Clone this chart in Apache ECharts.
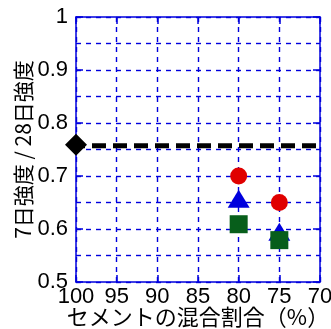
<!DOCTYPE html>
<html><head><meta charset="utf-8">
<script src="https://cdn.jsdelivr.net/npm/echarts@6/dist/echarts.min.js"></script>
<style>html,body{margin:0;padding:0;background:#fff}#c{width:331px;height:329px}</style>
</head><body><div id="c"></div>
<script>
const xTicks = [100, 95, 90, 85, 80, 75, 70];
const baseline = [[100, 0.759]];
const refLine = [[100, 0.757], [70, 0.757]];
const redCircles = [[80, 0.700], [75, 0.650]];
const blueTriangles = [[80, 0.657], [75, 0.595]];
const greenSquares = [[80, 0.609], [75, 0.579]];

const blue = '#0000dd';
const font = 'Liberation Sans, Arial, "Noto Sans CJK JP", sans-serif';
const cjk = '"Noto Sans CJK JP", sans-serif';
const chart = echarts.init(document.getElementById('c'), null, {renderer: 'canvas'});
const baseX = {
  type: 'value', min: 70, max: 100, interval: 5, inverse: true,
  axisLine: {show: true, onZero: false, lineStyle: {color: blue, width: 1.5}},
  axisTick: {show: true, inside: true, length: 7, lineStyle: {color: blue, width: 1.5}},
  splitLine: {show: false}
};
const baseY = {
  type: 'value', min: 0.5, max: 1, interval: 0.1,
  axisLine: {show: true, onZero: false, lineStyle: {color: blue, width: 1.5}},
  axisTick: {show: true, inside: true, length: 7, lineStyle: {color: blue, width: 1.5}},
  splitLine: {show: false}
};
const gridStyle = {color: blue, width: 1.4, type: [5, 5]};
chart.setOption({
  animation: false,
  grid: {left: 76, right: 11, top: 17, bottom: 47, containLabel: false, outerBoundsMode: 'none'},
  xAxis: [
    Object.assign({}, baseX, {
      position: 'bottom',
      axisLabel: {color: '#000', fontSize: 22, fontFamily: font, margin: 4},
      splitLine: {show: true, lineStyle: gridStyle},
      name: 'セメントの混合割合（%）', nameLocation: 'middle', nameGap: 24, nameMoveOverlap: false,
      nameTextStyle: {color: '#000', fontSize: 22, fontFamily: cjk}
    }),
    Object.assign({}, baseX, {position: 'top', axisLabel: {show: false}})
  ],
  yAxis: [
    Object.assign({}, baseY, {
      position: 'left',
      axisLabel: {color: '#000', fontSize: 22, fontFamily: font, margin: 8},
      splitLine: {show: true, lineStyle: gridStyle},
      minorTick: {show: false, splitNumber: 2},
      minorSplitLine: {show: true, lineStyle: gridStyle},
      name: '7日強度 / 28日強度', nameLocation: 'middle', nameGap: 42, nameMoveOverlap: false,
      nameTextStyle: {color: '#000', fontSize: 21, fontFamily: cjk}
    }),
    Object.assign({}, baseY, {position: 'right', axisLabel: {show: false}})
  ],
  series: [
    {type: 'line', data: refLine, symbol: 'none', silent: true, z: 3,
     lineStyle: {color: '#000', width: 5, type: [14, 7], dashOffset: 5}},
    {type: 'scatter', data: baseline, symbol: 'diamond', symbolSize: [22, 22], z: 5,
     itemStyle: {color: '#000', opacity: 1}},
    {type: 'scatter', data: greenSquares, symbol: 'rect', symbolSize: 18, z: 4,
     itemStyle: {color: '#075e1b', opacity: 1}},
    {type: 'scatter', data: blueTriangles, symbol: 'triangle', symbolSize: [22, 18], z: 3,
     itemStyle: {color: '#0000dd', opacity: 1}},
    {type: 'scatter', data: redCircles, symbol: 'circle', symbolSize: 17, z: 5,
     itemStyle: {color: '#e00000', opacity: 1}}
  ]
});
</script></body></html>
